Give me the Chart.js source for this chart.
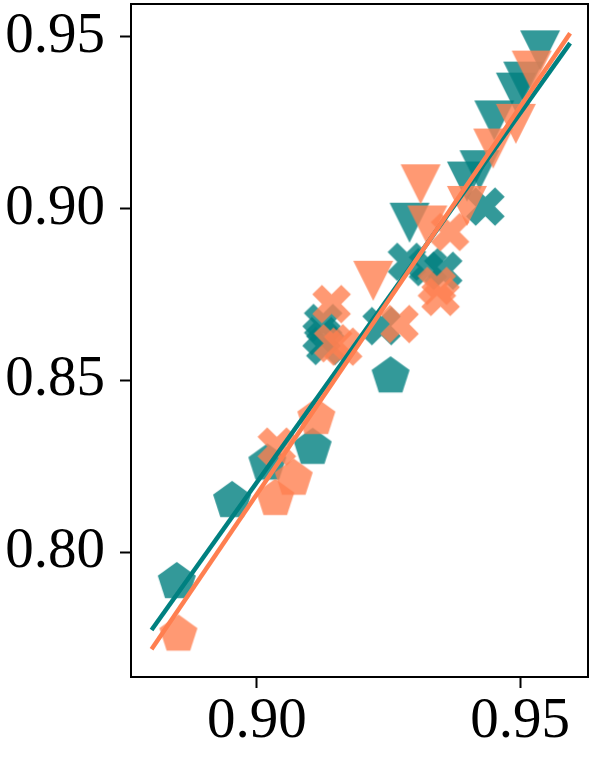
<!DOCTYPE html>
<html>
<head>
<meta charset="utf-8">
<script src="https://cdn.jsdelivr.net/npm/chart.js@4.4.1/dist/chart.umd.min.js"></script>
<style>
  html, body { margin: 0; padding: 0; background: #fff; }
  #wrap { position: relative; width: 593px; height: 759px; }
</style>
</head>
<body>
<div id="wrap"><canvas id="chart"></canvas></div>
<script>
// ===== valores =====
const tealPentX = [0.8848, 0.8953, 0.9020, 0.9106, 0.9254];
const tealPentY = [0.7913, 0.8149, 0.8258, 0.8304, 0.8512];
const coralPentX = [0.8851, 0.9035, 0.9070, 0.9113];
const coralPentY = [0.7760, 0.8155, 0.8214, 0.8391];

const tealCrossX = [0.9126, 0.9123, 0.9130, 0.9237, 0.9285, 0.9325, 0.9354, 0.9434];
const tealCrossY = [0.8667, 0.8629, 0.8600, 0.8658, 0.8845, 0.8830, 0.8819, 0.9006];
const coralCrossX = [0.9038, 0.9142, 0.9145, 0.9164, 0.9271, 0.9342, 0.9349, 0.9367];
const coralCrossY = [0.8307, 0.8722, 0.8608, 0.8598, 0.8664, 0.8775, 0.8743, 0.8932];

const tealTriX = [0.9538, 0.9506, 0.9492, 0.9451, 0.9423, 0.9399, 0.9290];
const tealTriY = [0.9461, 0.9370, 0.9338, 0.9257, 0.9112, 0.9079, 0.8959];
const coralTriX = [0.9522, 0.9492, 0.9449, 0.9399, 0.9311, 0.9324, 0.9221];
const coralTriY = [0.9402, 0.9247, 0.9175, 0.9008, 0.9071, 0.8951, 0.8790];

// rectas de ajuste
const tealFitX = [0.88, 0.9595];
const tealFitY = [0.7773, 0.9482];
const coralFitX = [0.88, 0.9595];
const coralFitY = [0.7717, 0.9511];

const xTicks = [0.90, 0.95];
const yTicks = [0.80, 0.85, 0.90, 0.95];
const xRange = [0.8761, 0.9629];
const yRange = [0.7636, 0.9596];

const TEAL = '#008080';
const CORAL = '#FF7F50';
const TEAL_A = 'rgba(0, 128, 128, 0.8)';
const CORAL_A = 'rgba(255, 127, 80, 0.8)';

function puntos(xs, ys) {
    return xs.map((x, i) => ({ x: x, y: ys[i] }));
}

// marcador dibujado en un canvas aparte (pentagono, X rellena, triangulo hacia abajo)
function crearMarcador(tipo, color, size) {
    const dim = Math.ceil(size) + 4;
    const c = document.createElement('canvas');
    c.width = dim;
    c.height = dim;
    const g = c.getContext('2d');
    const m = dim / 2;
    g.fillStyle = color;
    g.beginPath();
    if (tipo === 'pentagon') {
        const r = size / 2;
        for (let k = 0; k < 5; k++) {
            const a = -Math.PI / 2 + k * 2 * Math.PI / 5;
            const px = m + r * Math.cos(a), py = m + r * Math.sin(a);
            if (k === 0) g.moveTo(px, py); else g.lineTo(px, py);
        }
    } else if (tipo === 'triDown') {
        const h = size / 2;
        g.moveTo(m - h, m - h);
        g.lineTo(m + h, m - h);
        g.lineTo(m, m + h);
    } else if (tipo === 'x') {
        const base = [[-1, -3], [-1, -1], [-3, -1], [-3, 1], [-1, 1], [-1, 3],
                      [1, 3], [1, 1], [3, 1], [3, -1], [1, -1], [1, -3]];
        const cs = Math.cos(Math.PI / 4), sn = Math.sin(Math.PI / 4);
        base.forEach((p, k) => {
            const u = p[0] / 6 * size, v = p[1] / 6 * size;
            const px = m + u * cs - v * sn, py = m + u * sn + v * cs;
            if (k === 0) g.moveTo(px, py); else g.lineTo(px, py);
        });
    }
    g.closePath();
    g.fill();
    return c;
}

const SIZE = 40;

function serieMarcadores(xs, ys, tipo, color, orden, size) {
    return {
        type: 'scatter',
        data: puntos(xs, ys),
        pointStyle: crearMarcador(tipo, color, size || SIZE),
        pointRadius: 20,
        pointHoverRadius: 20,
        order: orden
    };
}

function serieRecta(xs, ys, color, orden) {
    return {
        type: 'scatter',
        data: puntos(xs, ys),
        showLine: true,
        borderColor: color,
        borderWidth: 4.5,
        pointRadius: 0,
        pointHoverRadius: 0,
        borderCapStyle: 'butt',
        order: orden
    };
}

// marco completo alrededor del area del grafico
const marco = {
    id: 'marco',
    afterDraw(chart) {
        const a = chart.chartArea;
        const ctx = chart.ctx;
        ctx.save();
        ctx.strokeStyle = '#000';
        ctx.lineWidth = 2;
        ctx.strokeRect(a.left, a.top, a.right - a.left, a.bottom - a.top);
        ctx.restore();
    }
};

const fuente = { family: "'Liberation Serif', 'DejaVu Serif', serif", size: 57, lineHeight: 1 };

new Chart(document.getElementById('chart'), {
    type: 'scatter',
    data: {
        datasets: [
            serieRecta(coralFitX, coralFitY, CORAL, 0),
            serieRecta(tealFitX, tealFitY, TEAL, 1),
            serieMarcadores(coralTriX, coralTriY, 'triDown', CORAL_A, 2),
            serieMarcadores(coralCrossX, coralCrossY, 'x', CORAL_A, 3, 41),
            serieMarcadores(coralPentX, coralPentY, 'pentagon', CORAL_A, 4),
            serieMarcadores(tealTriX, tealTriY, 'triDown', TEAL_A, 5),
            serieMarcadores(tealCrossX, tealCrossY, 'x', TEAL_A, 6, 41),
            serieMarcadores(tealPentX, tealPentY, 'pentagon', TEAL_A, 7)
        ]
    },
    options: {
        responsive: true,
        maintainAspectRatio: false,
        animation: false,
        layout: { autoPadding: false, padding: { left: 0, top: 4, right: 5, bottom: 0 } },
        plugins: {
            legend: { display: false },
            tooltip: { enabled: false }
        },
        scales: {
            x: {
                type: 'linear',
                min: xRange[0],
                max: xRange[1],
                border: { display: false },
                grid: { drawOnChartArea: false, drawTicks: true, tickLength: 11, tickWidth: 2, tickColor: '#000' },
                ticks: {
                    font: fuente,
                    color: '#000',
                    padding: 6,
                    maxRotation: 0,
                    callback: v => v.toFixed(2)
                },
                afterBuildTicks: s => { s.ticks = xTicks.map(v => ({ value: v })); },
                afterFit: s => { s.height = 82; s.paddingLeft = 0; s.paddingRight = 0; }
            },
            y: {
                type: 'linear',
                min: yRange[0],
                max: yRange[1],
                border: { display: false },
                grid: { drawOnChartArea: false, drawTicks: true, tickLength: 11, tickWidth: 2, tickColor: '#000' },
                ticks: {
                    font: fuente,
                    color: '#000',
                    padding: 15,
                    callback: v => v.toFixed(2)
                },
                afterBuildTicks: s => { s.ticks = yTicks.map(v => ({ value: v })); },
                afterFit: s => { s.width = 131; s.paddingTop = 0; s.paddingBottom = 0; }
            }
        }
    },
    plugins: [marco]
});
</script>
</body>
</html>
